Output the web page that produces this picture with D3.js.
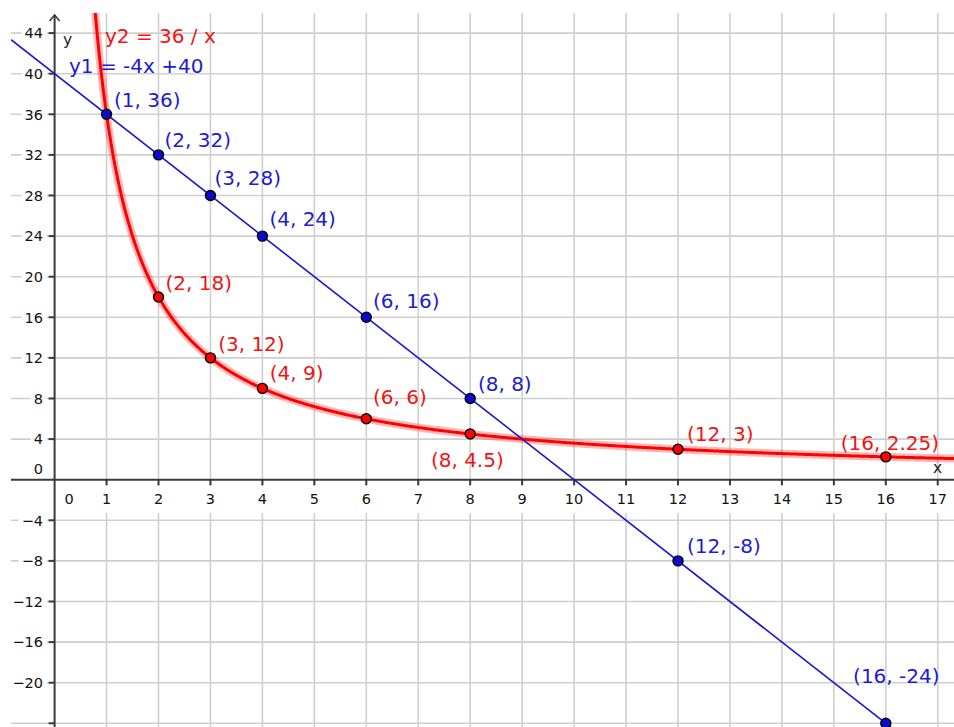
<!DOCTYPE html>
<html>
<head>
<meta charset="utf-8">
<script src="https://cdn.jsdelivr.net/npm/d3@7"></script>
<style>
  html, body { margin: 0; padding: 0; background: #fff; }
  svg { display: block; }
  text { font-family: "DejaVu Sans", sans-serif; }
</style>
</head>
<body>
<svg id="chart" width="954" height="727"></svg>
<script>
// ---------- data ----------
const lineSlope = -4, lineIntercept = 40;     // y1 = -4x + 40
const curveK = 36;                            // y2 = 36 / x
const lineXs = [1, 2, 3, 4, 6, 8, 12, 16];
const lineYs = [36, 32, 28, 24, 16, 8, -8, -24];
const curveXs = [2, 3, 4, 6, 8, 12, 16];
const curveYs = [18, 12, 9, 6, 4.5, 3, 2.25];
const xTickValues = [0,1,2,3,4,5,6,7,8,9,10,11,12,13,14,15,16,17];
const yTickValues = [44,40,36,32,28,24,20,16,12,8,4,0,-4,-8,-12,-16,-20];
const eqLabelLine = "y1 = -4x +40";
const eqLabelCurve = "y2 = 36 / x";

// ---------- layout (label offsets in px, relative to each point) ----------
const lineLabelOffsets = [[7.5,-7],[6,-8],[4,-10.5],[7,-10],[6.7,-9],[7.7,-7.3],[9,-8.3],[-32.7,-40]];
const curveLabelOffsets = [[7,-7.3],[7.7,-7],[7.3,-8.3],[6.7,-15],[-39.3,32.7],[9,-8.3],[-45,-6.7]];

const W = 954, H = 727;
const view = {left: 11, top: 13, right: 954, bottom: 727};
const x = d3.scaleLinear().domain([0, 17]).range([54.6, 54.6 + 17 * 51.95]);
const y = d3.scaleLinear().domain([0, 44]).range([479.7, 479.7 - 44 * 10.15]);

const BLUE = "#1818cc", BLUE_TXT = "#1c1cd0", RED = "#ff0000", RED_TXT = "#f01414";
const GRID = "#cfcfcf", AXIS = "#3a3a3a";

const svg = d3.select("#chart");
const defs = svg.append("defs");
defs.append("clipPath").attr("id", "viewClip").append("rect")
  .attr("x", view.left).attr("y", view.top)
  .attr("width", view.right - view.left).attr("height", view.bottom - view.top);

const gridG = svg.append("g").attr("clip-path", "url(#viewClip)");

// grid
const xMin = x.invert(view.left), xMax = x.invert(view.right);
const yMax = y.invert(view.top), yMin = y.invert(view.bottom);
const gridXs = d3.range(Math.ceil(xMin), Math.floor(xMax) + 1).filter(v => v !== 0);
const gridYs = d3.range(Math.ceil(yMin / 4) * 4, yMax, 4).filter(v => v !== 0);
gridG.append("g").selectAll("line").data(gridXs).join("line")
  .attr("x1", d => x(d)).attr("x2", d => x(d))
  .attr("y1", view.top).attr("y2", view.bottom)
  .attr("stroke", GRID).attr("stroke-width", 1.6);
gridG.append("g").selectAll("line").data(gridYs).join("line")
  .attr("x1", view.left).attr("x2", view.right)
  .attr("y1", d => y(d)).attr("y2", d => y(d))
  .attr("stroke", GRID).attr("stroke-width", 1.6);

// tick label backgrounds + labels
const fmtNum = v => v < 0 ? "\u2212" + Math.abs(v) : String(v);
const xLab = svg.append("g").attr("font-size", 14.5).attr("fill", "#111");
xTickValues.forEach(v => {
  const cx = v === 0 ? x(0) + 14.5 : x(v);
  const t = xLab.append("text").attr("x", cx).attr("y", 504).attr("text-anchor", "middle").text(fmtNum(v));
  const b = t.node().getBBox();
  xLab.insert("rect", "text").attr("x", b.x - 2).attr("y", 486).attr("width", b.width + 4).attr("height", 27).attr("fill", "#fff");
});
const yLab = svg.append("g").attr("font-size", 14.5).attr("fill", "#111");
yTickValues.forEach(v => {
  const cy = v === 0 ? y(0) - 10.7 : y(v);
  const t = yLab.append("text").attr("x", 43).attr("y", cy).attr("dy", "0.36em").attr("text-anchor", "end").text(fmtNum(v));
  if (v !== 0) {
    const b = t.node().getBBox();
    yLab.insert("rect", "text").attr("x", b.x - 3).attr("y", y(v) - 9).attr("width", 47 - (b.x - 3)).attr("height", 18).attr("fill", "#fff");
  }
});

// axes
const ax = svg.append("g").attr("stroke", AXIS).attr("stroke-width", 2).attr("fill", "none");
ax.append("line").attr("x1", view.left).attr("x2", W).attr("y1", y(0)).attr("y2", y(0));
ax.append("line").attr("x1", x(0)).attr("x2", x(0)).attr("y1", H).attr("y2", 15);
ax.append("path").attr("d", `M${x(0)-5},${21} L${x(0)},${15} L${x(0)+5},${21}`).attr("stroke-width", 1.6);
ax.selectAll(".xt").data(xTickValues.filter(v => v !== 0)).join("line")
  .attr("x1", d => x(d)).attr("x2", d => x(d)).attr("y1", y(0)).attr("y2", y(0) + 5.5);
ax.selectAll(".yt").data(yTickValues.filter(v => v !== 0).concat([-24])).join("line")
  .attr("x1", x(0) - 6).attr("x2", x(0)).attr("y1", d => y(d)).attr("y2", d => y(d));

// axis names
svg.append("text").attr("x", 63).attr("y", 45).attr("font-size", 15.5).attr("fill", "#222").text("y");
svg.append("text").attr("x", 933).attr("y", 473).attr("font-size", 15.5).attr("fill", "#222").text("x");

// data layer (above tick labels)
const g = svg.append("g").attr("clip-path", "url(#viewClip)");

// curve y = k/x
const curveSamples = d3.range(0.7, xMax + 0.05, 0.02).map(v => [v, curveK / v]);
const curveGen = d3.line().x(d => x(d[0])).y(d => y(d[1])).curve(d3.curveLinear);
g.append("path").attr("d", curveGen(curveSamples)).attr("fill", "none")
  .attr("stroke", RED).attr("stroke-opacity", 0.28).attr("stroke-width", 8).attr("stroke-linejoin", "round");
g.append("path").attr("d", curveGen(curveSamples)).attr("fill", "none")
  .attr("stroke", RED).attr("stroke-width", 3).attr("stroke-linejoin", "round");

// line y = m x + b
g.append("line")
  .attr("x1", x(xMin)).attr("y1", y(lineSlope * xMin + lineIntercept))
  .attr("x2", x(xMax)).attr("y2", y(lineSlope * xMax + lineIntercept))
  .attr("stroke", BLUE).attr("stroke-width", 1.6);

// points
const linePts = lineXs.map((v, i) => ({x: v, y: lineYs[i], off: lineLabelOffsets[i]}));
const curvePts = curveXs.map((v, i) => ({x: v, y: curveYs[i], off: curveLabelOffsets[i]}));
g.append("g").selectAll("circle").data(curvePts).join("circle")
  .attr("cx", d => x(d.x)).attr("cy", d => y(d.y)).attr("r", 5)
  .attr("fill", RED).attr("stroke", "#000").attr("stroke-width", 1.4);
g.append("g").selectAll("circle").data(linePts).join("circle")
  .attr("cx", d => x(d.x)).attr("cy", d => y(d.y)).attr("r", 5)
  .attr("fill", "#0a0ad0").attr("stroke", "#000").attr("stroke-width", 1.4);

// point labels
svg.append("g").attr("font-size", 20).attr("fill", BLUE_TXT).selectAll("text").data(linePts).join("text")
  .attr("x", d => x(d.x) + d.off[0]).attr("y", d => y(d.y) + d.off[1])
  .text(d => `(${d.x}, ${d.y})`);
svg.append("g").attr("font-size", 20).attr("fill", RED_TXT).selectAll("text").data(curvePts).join("text")
  .attr("x", d => x(d.x) + d.off[0]).attr("y", d => y(d.y) + d.off[1])
  .text(d => `(${d.x}, ${d.y})`);

// equation labels
svg.append("text").attr("x", 105).attr("y", 43.3).attr("font-size", 20).attr("fill", RED_TXT).text(eqLabelCurve);
svg.append("text").attr("x", 69).attr("y", 72.7).attr("font-size", 20).attr("fill", BLUE_TXT).text(eqLabelLine);
</script>
</body>
</html>
